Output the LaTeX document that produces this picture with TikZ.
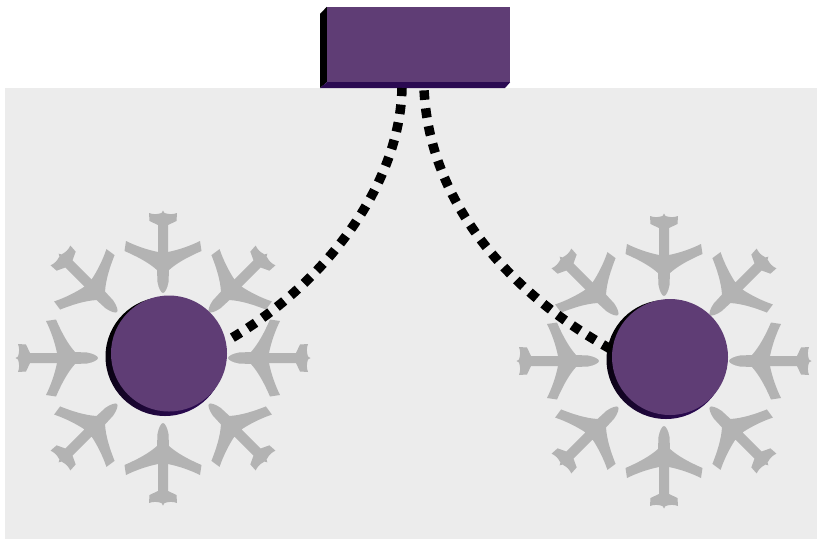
\documentclass[tikz,border=0pt]{standalone}
\usepackage{tikz}
\definecolor{hubpurple}{HTML}{5F3D75}
\definecolor{hubdark}{HTML}{2B0A52}
\definecolor{planegray}{HTML}{B3B3B3}
\definecolor{floorgray}{HTML}{ECECEC}
\tikzstyle{hub node}    = [circle,fill=hubpurple,inner sep=0,minimum size=116pt]
\tikzstyle{hub shadow}  = [circle,inner sep=0,minimum size=119pt,top color=black,bottom color=hubdark,shading angle=45]
\tikzstyle{box node}    = [rectangle,fill=hubpurple,inner sep=0,minimum width=183pt,minimum height=75pt]
\tikzstyle{link}        = [black,line width=9.5pt,dash pattern=on 9.5pt off 8.5pt]
\tikzset{
  plane/.pic={
    \fill[planegray] (0,-147.5) -- (1.5,-145) .. controls (6,-143.5) and (10,-143.5) .. (14,-145)
      -- (13.5,-137) -- (5,-133) -- (5,-106) .. controls (15,-108) and (27,-112) .. (37,-117)
      -- (38.5,-107) .. controls (27,-102) and (15,-96) .. (6,-88)
      -- (5.5,-76) .. controls (4.5,-70) and (2,-65) .. (0,-65)
      .. controls (-2,-65) and (-4.5,-70) .. (-5.5,-76)
      -- (-6,-88) .. controls (-15,-96) and (-27,-102) .. (-38.5,-107)
      -- (-37,-117) .. controls (-27,-112) and (-15,-108) .. (-5,-106)
      -- (-5,-133) -- (-13.5,-137) -- (-14,-145)
      .. controls (-10,-143.5) and (-6,-143.5) .. (-1.5,-145) -- cycle;
  }
}

\begin{document}
\begin{tikzpicture}[x=1pt,y=-1pt]
    \useasboundingbox (0,0) rectangle (817,539);
    \fill[floorgray] (5,88) rectangle (817,539);

    % planes round each hub
    \foreach \ang in {0,45,...,315}{
        \pic[rotate=\ang] at (163,358) {plane};
        \pic[rotate=\ang] at (664,361) {plane};
    }

    \node(shadowa)[hub shadow] at (165,356.5){};
    \node(shadowb)[hub shadow] at (666,359.5){};
    \node(huba)[hub node] at (169,353.5){};
    \node(hubb)[hub node] at (670,357){};

    % box with its two dark sides
    \node(box)[box node] at (418.5,44.5){};
    \fill[black] (320,14) -- (box.north west) -- (box.south west) -- (320,88) -- cycle;
    \fill[hubdark] (320,88) -- (box.south west) -- (box.south east) -- (505,88) -- cycle;

    \coordinate(porta) at (402,88);
    \coordinate(portb) at (424,88);

    \draw[link,dash phase=10.5pt](huba.12) .. controls (325,285) and (400,185) .. (porta);
    \draw[link,dash phase=16.5pt](hubb.173) .. controls (495,285) and (428,190) .. (portb);
\end{tikzpicture}
\end{document}
